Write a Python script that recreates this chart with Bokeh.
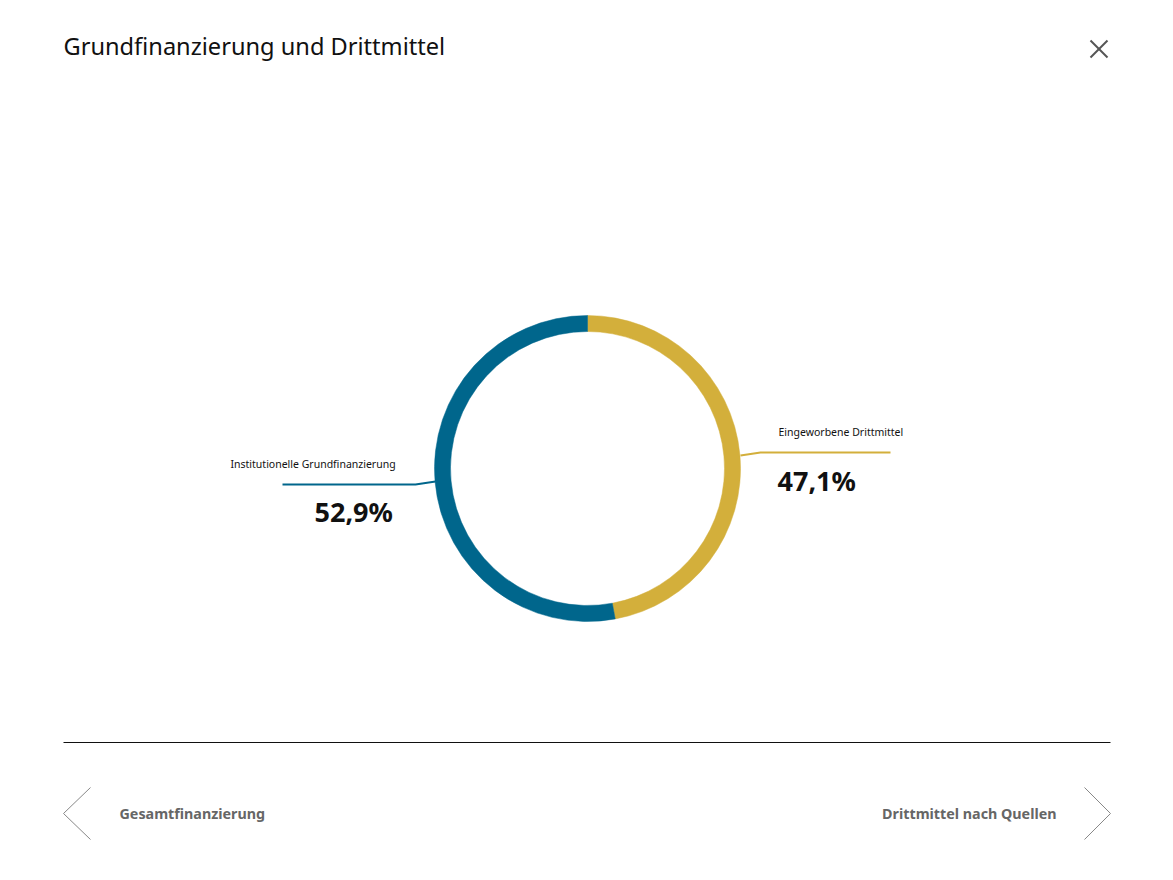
import math
from bokeh.plotting import figure
from bokeh.models import Range1d, ColumnDataSource
from bokeh.core.properties import value
from bokeh.embed import file_html
from bokeh.resources import INLINE

# ---- data ----
title = "Grundfinanzierung und Drittmittel"
categories = ["Eingeworbene Drittmittel", "Institutionelle Grundfinanzierung"]
shares = [47.1, 52.9]
colors = ["#D3AF3B", "#00668C"]
nav_prev = "Gesamtfinanzierung"
nav_next = "Drittmittel nach Quellen"

W, H = 1157, 864
FONT = "Noto Sans"

def Y(py):
    return 880 - py

p = figure(width=W, height=H, x_range=Range1d(0, W), y_range=Range1d(Y(H), Y(0)),
           output_backend="svg", toolbar_location=None, min_border=0)
p.axis.visible = False
p.grid.visible = False
p.outline_line_color = None
p.background_fill_color = "white"
p.border_fill_color = "white"

# ---- donut ----
cx, cy = 587, Y(468)
total = sum(shares)
starts, ends = [], []
a = math.pi / 2
for v in shares:
    starts.append(a)
    a = a - 2 * math.pi * v / total
    ends.append(a)
src = ColumnDataSource(dict(start=starts, end=ends, color=colors))
p.annular_wedge(x=cx, y=cy, inner_radius=137, outer_radius=153,
                inner_radius_units="screen", outer_radius_units="screen",
                start_angle="start", end_angle="end", direction="clock",
                fill_color="color", line_color="color", line_width=0.5, source=src)

def pct(v):
    return f"{v:.1f}".replace(".", ",") + "%"

# right label (Drittmittel)
p.line([740, 760, 890], [Y(455), Y(452), Y(452)], line_color=colors[0], line_width=2)
p.text(x=[778], y=[Y(431)], text=[categories[0]], text_font=value(FONT), text_font_size="10.5px",
       text_baseline="middle", text_align="left", text_color="#111111")
p.text(x=[777], y=[Y(480)], text=[pct(shares[0])], text_font=value(FONT), text_font_size="27px",
       text_font_style="bold", text_baseline="middle", text_align="left", text_color="#111111")

# left label (Grundfinanzierung)
p.line([435, 415, 282], [Y(481), Y(484), Y(484)], line_color=colors[1], line_width=2)
p.text(x=[230], y=[Y(463)], text=[categories[1]], text_font=value(FONT), text_font_size="10.5px",
       text_baseline="middle", text_align="left", text_color="#111111")
p.text(x=[314], y=[Y(511)], text=[pct(shares[1])], text_font=value(FONT), text_font_size="27px",
       text_font_style="bold", text_baseline="middle", text_align="left", text_color="#111111")

# ---- title and close ----
p.text(x=[63], y=[Y(45)], text=[title], text_font=value(FONT), text_font_size="23.6px",
       text_baseline="middle", text_align="left", text_color="#111111")
p.line([1090, 1107], [Y(40), Y(57)], line_color="#555555", line_width=2)
p.line([1107, 1090], [Y(40), Y(57)], line_color="#555555", line_width=2)

# ---- separator and navigation ----
p.line([63, 1110], [Y(742), Y(742)], line_color="#111111", line_width=1)
p.line([90, 63, 90], [Y(787), Y(813), Y(839)], line_color="#888888", line_width=1)
p.line([1084, 1110, 1084], [Y(787), Y(813), Y(839)], line_color="#888888", line_width=1)
p.text(x=[119], y=[Y(813)], text=[nav_prev], text_font=value(FONT), text_font_size="14.3px",
       text_font_style="bold", text_baseline="middle", text_align="left", text_color="#666666")
p.text(x=[1056], y=[Y(813)], text=[nav_next], text_font=value(FONT), text_font_size="14.3px",
       text_font_style="bold", text_baseline="middle", text_align="right", text_color="#666666")

open("out.html", "w").write(file_html(p, INLINE))
